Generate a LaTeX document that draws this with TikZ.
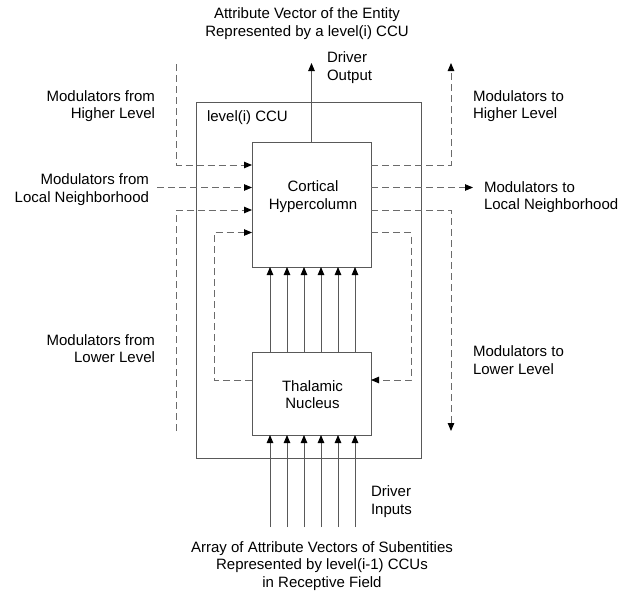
\documentclass[tikz,border=0pt]{standalone}
\usepackage{fontspec}
\setmainfont{Liberation Sans}
\usetikzlibrary{arrows.meta,calc}
\definecolor{solidc}{gray}{0.35}
\definecolor{dashc}{gray}{0.42}
\tikzset{
  box/.style={draw=solidc, line width=0.9pt, inner sep=0pt, outer sep=0pt, anchor=north west},
  lbl/.style={inner sep=0pt, outer sep=0pt, font=\fontsize{15pt}{17.5pt}\selectfont, text=black},
  tip/.style={-{Triangle[length=8pt,width=6.5pt,color=black]}},
  solidarr/.style={draw=solidc, line width=0.9pt, tip},
  dashln/.style={draw=dashc, line width=0.9pt, dash pattern=on 7pt off 4pt},
  dasharr/.style={dashln, tip}
}
\begin{document}
\begin{tikzpicture}[x=1pt,y=-1pt]
\useasboundingbox (0,0) rectangle (631,592);
% boxes
\node[box, minimum width=224.5pt, minimum height=355.5pt] (ccu) at (196.5,102.5) {};
\node[box, minimum width=119pt, minimum height=125pt] (cort) at (252,142) {};
\node[box, minimum width=119pt, minimum height=83pt] (thal) at (252,352) {};
% texts
\node[lbl, align=center] (ttop) at (307,23.5) {Attribute Vector of the Entity\\Represented by a level(i) CCU};
\node[lbl, align=left, anchor=west] (tdout) at (327,67.5) {Driver\\Output};
\node[lbl, anchor=west] (tccu) at (207,118) {level(i) CCU};
\node[lbl, align=center] (tcort) at (313,196.5) {Cortical\\Hypercolumn};
\node[lbl, align=center] (tthal) at (312.5,394.5) {Thalamic\\Nucleus};
\node[lbl, align=right, anchor=east] (tfh) at (155,106) {Modulators from\\Higher Level};
\node[lbl, align=right, anchor=east] (tfl) at (149,189.5) {Modulators from\\Local Neighborhood};
\node[lbl, align=right, anchor=east] (tflo) at (155,348.5) {Modulators from\\Lower Level};
\node[lbl, align=left, anchor=west] (tth) at (473,106) {Modulators to\\Higher Level};
\node[lbl, align=left, anchor=west] (ttl) at (484,197) {Modulators to\\Local Neighborhood};
\node[lbl, align=left, anchor=west] (ttlo) at (473,360) {Modulators to\\Lower Level};
\node[lbl, align=left, anchor=west] (tdin) at (371,501.5) {Driver\\Inputs};
\node[lbl, align=center] (tbot) at (322,566) {Array of Attribute Vectors of Subentities\\Represented by level(i-1) CCUs\\in Receptive Field};
% free ends
\coordinate (dout) at (311.5,63);
\coordinate (hiL) at (176.5,64);
\coordinate (locL) at (157,187.5);
\coordinate (loL) at (176.5,431);
\coordinate (hiR) at (451,63);
\coordinate (locR) at (473,187.5);
\coordinate (loR) at (451,431);
% driver output
\draw[solidarr] (cort.north) -- (dout);
% thalamus -> cortex and inputs -> thalamus
\foreach \dx in {-42.5,-25.5,-8.5,8.5,25.5,42.5} {
  \draw[solidarr] ($(thal.north)+(\dx+1,0)$) -- ($(cort.south)+(\dx+1,0)$);
  \draw[solidarr] ($(thal.south)+(\dx+1,92)$) -- ($(thal.south)+(\dx+1,0)$);
}
% left modulators
\draw[dasharr] (hiL) |- ($(cort.north west)+(0,23)$);
\draw[dasharr] (locL) -- ($(cort.north west)+(0,45.5)$);
\draw[dasharr] (loL) |- ($(cort.north west)+(0,68)$);
\draw[dasharr] ($(thal.north west)+(0,28)$) -- ++(-38,0) |- ($(cort.north west)+(0,90.5)$);
% right modulators
\draw[dasharr] ($(cort.north east)+(0,23)$) -| (hiR);
\draw[dasharr] ($(cort.north east)+(0,45.5)$) -- (locR);
\draw[dasharr] ($(cort.north east)+(0,68)$) -| (loR);
\draw[dasharr] ($(cort.north east)+(0,90.5)$) -- ++(40,0) |- ($(thal.north east)+(0,28)$);
\end{tikzpicture}
\end{document}
